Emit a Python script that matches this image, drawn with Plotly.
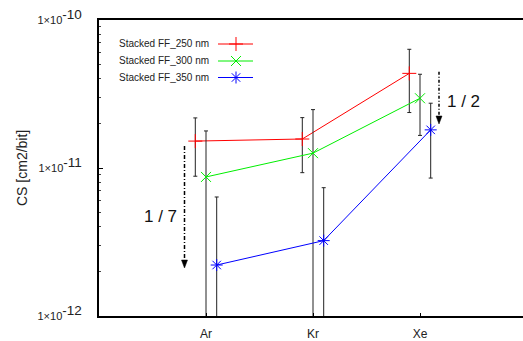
import plotly.graph_objects as go

categories = ["Ar", "Kr", "Xe"]
series_names = ["Stacked FF_250 nm", "Stacked FF_300 nm", "Stacked FF_350 nm"]
cs_250 = [1.52e-11, 1.57e-11, 4.36e-11]
hi_250 = [2.18e-11, 2.19e-11, 6.34e-11]
lo_250 = [8.8e-12, 9.3e-12, 2.37e-11]
cs_300 = [8.7e-12, 1.26e-11, 2.96e-11]
hi_300 = [1.78e-11, 2.48e-11, 4.30e-11]
lo_300 = [5e-13, 5e-13, 1.66e-11]
cs_350 = [2.21e-12, 3.23e-12, 1.81e-11]
hi_350 = [6.37e-12, 7.36e-12, 2.74e-11]
lo_350 = [5e-13, 5e-13, 8.55e-12]
y_ticks = [1e-12, 1e-11, 1e-10]
y_exponents = ["-12", "-11", "-10"]

colors = ["#ff0000", "#00ee00", "#0000ff"]
symbols = ["cross-thin", "x-thin", "asterisk-open"]
offsets = [-0.1, 0.0, 0.1]
FONT = "Liberation Sans, Arial, sans-serif"

L, T, B = 99, 20, 25
W, H = 523, 341
pw = W - L
ph = H - T - B
xmax = pw / 107.0

def px(x):
    return (x - L) / pw

def py(y):
    return (T + ph - y) / ph

y_ticktext = ["1×10<sup><span style='font-size:13.5px'>%s</span></sup>" % e for e in y_exponents]

fig = go.Figure()
data = [(cs_250, hi_250, lo_250), (cs_300, hi_300, lo_300), (cs_350, hi_350, lo_350)]
for k, (v, hi, lo) in enumerate(data):
    xs = [i + 1 + offsets[k] for i in range(len(categories))]
    fig.add_trace(go.Scatter(
        x=xs, y=v, mode="lines+markers", name=series_names[k], showlegend=False,
        line=dict(color=colors[k], width=1),
        marker=dict(symbol=symbols[k], size=10, color=colors[k],
                    line=dict(color=colors[k], width=1)),
        error_y=dict(type="data", symmetric=False,
                     array=[h - a for h, a in zip(hi, v)],
                     arrayminus=[a - l for a, l in zip(v, lo)],
                     color="#222222", thickness=1, width=2),
    ))

# custom legend (text left, sample right)
rows = [44, 61, 77.5]
for k in range(3):
    fig.add_trace(go.Scatter(
        x=[px(218), px(253)], y=[py(rows[k])] * 2, mode="lines",
        line=dict(color=colors[k], width=1), xaxis="x2", yaxis="y2", showlegend=False,
        hoverinfo="skip"))
    fig.add_trace(go.Scatter(
        x=[px(236)], y=[py(rows[k])], mode="markers",
        marker=dict(symbol=symbols[k], size=10, color=colors[k],
                    line=dict(color=colors[k], width=1)),
        xaxis="x2", yaxis="y2", showlegend=False, hoverinfo="skip"))
    fig.add_annotation(x=px(211), y=py(rows[k]), xref="paper", yref="paper",
                       text=series_names[k], showarrow=False, xanchor="right",
                       yanchor="middle", font=dict(size=10, family=FONT, color="#222"))

def arrow(xp, ytop, ytip, dash):
    fig.add_shape(type="line", xref="paper", yref="paper",
                  x0=px(xp), x1=px(xp), y0=py(ytop), y1=py(ytip - 6),
                  line=dict(color="black", width=1.5, dash=dash))
    fig.add_shape(type="path", xref="paper", yref="paper",
                  path="M %f,%f L %f,%f L %f,%f Z" % (px(xp - 3), py(ytip - 8),
                                                      px(xp + 3), py(ytip - 8),
                                                      px(xp), py(ytip)),
                  fillcolor="black", line=dict(color="black", width=0.5))

arrow(184.5, 146, 268, "4px,2px,1px,2px")
arrow(439, 71.7, 124, "3px,2px,1px,2px")

fig.add_annotation(x=px(160.5), y=py(216.7), xref="paper", yref="paper",
                   xanchor="center", yanchor="middle",
                   text="1 / 7", showarrow=False, font=dict(size=17, family=FONT, color="#111"))
fig.add_annotation(x=px(463), y=py(101.7), xref="paper", yref="paper",
                   xanchor="center", yanchor="middle",
                   text="1 / 2", showarrow=False, font=dict(size=17, family=FONT, color="#111"))
fig.add_annotation(x=px(22), y=py(168), xref="paper", yref="paper", textangle=-90,
                   xanchor="center", yanchor="middle",
                   text="CS [cm2/bit]", showarrow=False,
                   font=dict(size=14, family=FONT, color="#222"))

minor_vals = [m * 10 ** e for e in (-12, -11) for m in range(2, 10)]

hidden = dict(range=[0, 1], visible=False, showticklabels=False, ticks="",
              tickmode="array", tickvals=[], showgrid=False, zeroline=False)

fig.update_layout(
    width=W, height=H,
    margin=dict(l=L, r=0, t=T, b=B, pad=0),
    paper_bgcolor="white", plot_bgcolor="white",
    font=dict(family=FONT, color="black"),
    xaxis=dict(range=[0, xmax], tickmode="array", tickvals=[1, 2, 3], ticktext=categories,
               showgrid=False, zeroline=False, showline=True, linewidth=2, linecolor="black",
               mirror=True, ticks="inside", ticklen=3, tickcolor="black",
               ticklabelstandoff=6,
               tickfont=dict(size=12, family=FONT, color="#222")),
    yaxis=dict(type="log", range=[-12, -10], tickmode="array", tickvals=y_ticks,
               ticktext=y_ticktext, showgrid=False, zeroline=False, showline=True,
               linewidth=2, linecolor="black", ticks="inside", ticklen=4, tickcolor="black",
               ticklabelstandoff=13,
               tickfont=dict(size=11, family=FONT, color="#222"),
               minor=dict(tickmode="array", tickvals=minor_vals, ticks="inside",
                          ticklen=2, tickcolor="#444", showgrid=False)),
    xaxis2=dict(overlaying="x", **hidden),
    yaxis2=dict(overlaying="y", **hidden),
)

fig.write_html("out.html")
